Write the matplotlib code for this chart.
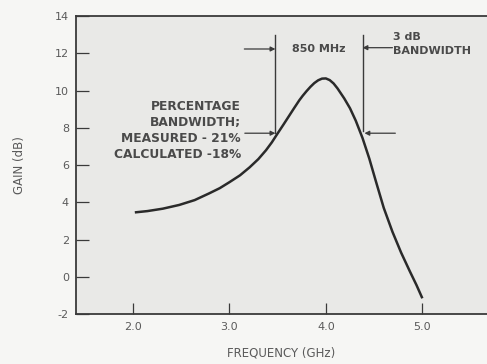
import numpy as np
import matplotlib.pyplot as plt

plt.rcParams["axes.unicode_minus"] = False

# gain curve
freq_ghz = [2.02, 2.15, 2.31, 2.48, 2.64, 2.79, 2.90, 3.00, 3.11, 3.21, 3.30,
            3.38, 3.44, 3.50, 3.56, 3.62, 3.67, 3.725, 3.76, 3.80, 3.84, 3.88,
            3.92, 3.96, 4.00, 4.04, 4.08, 4.12, 4.19, 4.25, 4.31, 4.38, 4.45,
            4.52, 4.60, 4.69, 4.78, 4.87, 4.94, 5.00]
gain_db = [3.46, 3.53, 3.66, 3.86, 4.12, 4.48, 4.76, 5.08, 5.45, 5.88, 6.32,
           6.80, 7.22, 7.70, 8.17, 8.65, 9.05, 9.48, 9.72, 9.97, 10.20, 10.40,
           10.55, 10.64, 10.65, 10.56, 10.38, 10.12, 9.58, 9.05, 8.38, 7.45, 6.35,
           5.10, 3.70, 2.42, 1.30, 0.30, -0.45, -1.15]

x_ticks = [2.0, 3.0, 4.0, 5.0]
x_ticklabels = ["2.0", "3.0", "4.0", "5.0"]
y_ticks = [-2, 0, 2, 4, 6, 8, 10, 12, 14]

bw_low, bw_high = 3.477, 4.38   # 3 dB points
half_power = 7.71
bw_top = 12.98

ink = "#3a3a3a"
txt = "#4a4a4a"
paper = "#e9e9e7"

fig = plt.figure(figsize=(4.87, 3.64), dpi=100, facecolor="#f6f6f4")
ax = fig.add_axes([0.156, 0.137, 0.844, 0.819])
ax.set_facecolor(paper)

ax.plot(freq_ghz, gain_db, color="#2a2a2a", lw=1.8, solid_capstyle="butt")

ax.set_xlim(1.41, 5.67)
ax.set_ylim(-2, 14)
ax.set_xticks(x_ticks)
ax.set_xticklabels(x_ticklabels)
ax.set_yticks(y_ticks)

ax.tick_params(axis="x", direction="in", length=8, width=0.9, color=ink,
               labelsize=8, labelcolor="#5a5a5a", pad=6)
ax.tick_params(axis="y", direction="in", length=9, width=0.9, color=ink,
               labelsize=8, labelcolor="#5a5a5a", pad=5)

for s in ["top", "bottom", "left"]:
    ax.spines[s].set_color(ink)
    ax.spines[s].set_linewidth(1.3)
ax.spines["right"].set_visible(False)

ax.set_xlabel("FREQUENCY (GHz)", fontsize=8.5, color="#5a5a5a", labelpad=10)
ax.set_ylabel("GAIN (dB)", fontsize=8.5, color="#5a5a5a", labelpad=21)

# bandwidth markers
ax.plot([bw_low, bw_low], [half_power, bw_top], color=ink, lw=1.0)
ax.plot([bw_high, bw_high], [half_power + 0.1, bw_top], color=ink, lw=1.0)

arrow = dict(arrowstyle="-|>", color=ink, lw=0.9, mutation_scale=7,
             shrinkA=0, shrinkB=0)
ax.annotate("", xy=(bw_low, 12.23), xytext=(3.155, 12.23), arrowprops=arrow)
ax.annotate("", xy=(bw_high, 12.3), xytext=(4.69, 12.3), arrowprops=arrow)
ax.annotate("", xy=(bw_low, half_power), xytext=(3.16, half_power), arrowprops=arrow)
ax.annotate("", xy=(bw_high + 0.02, half_power), xytext=(4.72, half_power),
            arrowprops=arrow)

ax.text((bw_low + bw_high) / 2, 12.25, "850 MHz", fontsize=8, color=txt,
        fontweight="bold", ha="center", va="center")
ax.text(4.70, 12.5, "3 dB\nBANDWIDTH", fontsize=8, color=txt,
        fontweight="bold", ha="left", va="center", linespacing=1.4)
ax.text(3.12, 7.85, "PERCENTAGE\nBANDWIDTH;\nMEASURED - 21%\nCALCULATED -18%",
        fontsize=8.8, color=txt, fontweight="bold", ha="right", va="center",
        multialignment="right", linespacing=1.3)

fig.savefig("out.png", dpi=100, facecolor=fig.get_facecolor())
